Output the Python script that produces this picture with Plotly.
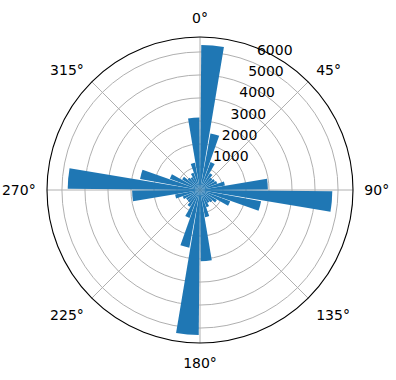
import plotly.graph_objects as go

bin_starts = list(range(0, 360, 10))
counts = [6300, 2500, 1300, 850, 700, 750, 800, 1100, 2950,
          5750, 2700, 1400, 850, 700, 650, 800, 1200, 3100,
          6300, 2550, 1300, 850, 700, 700, 800, 1100, 2950,
          5750, 2650, 1400, 900, 700, 650, 800, 1200, 3150]
bar_width_deg = 9
angle_ticks = [0, 45, 90, 135, 180, 225, 270, 315]
angle_labels = [f"{a}°" for a in angle_ticks]
r_ticks = [1000, 2000, 3000, 4000, 5000, 6000]
r_label_angle = 22.5
r_max = 6650

centers = [s + 5 for s in bin_starts]

fig = go.Figure()
fig.add_trace(go.Barpolar(
    r=counts, theta=centers, width=[bar_width_deg] * len(counts),
    marker=dict(color="#1f77b4", line=dict(width=0)),
    hoverinfo="skip",
))
fig.add_trace(go.Scatterpolar(
    r=r_ticks, theta=[r_label_angle] * len(r_ticks),
    mode="markers+text", text=[str(v) for v in r_ticks],
    marker=dict(color="rgba(255,255,255,0)", size=5, line=dict(width=0)),
    textposition="top right",
    textfont=dict(family="DejaVu Sans", size=14, color="black"),
    hoverinfo="skip", cliponaxis=False,
))

W, H = 396, 380
cx, cy, R = 200, 190, 153
fig.update_layout(
    width=W, height=H,
    margin=dict(l=0, r=0, t=0, b=0),
    paper_bgcolor="white",
    showlegend=False,
    font=dict(family="DejaVu Sans", size=14, color="black"),
    polar=dict(
        domain=dict(x=[(cx - R) / W, (cx + R) / W], y=[(H - cy - R) / H, (H - cy + R) / H]),
        bgcolor="white",
        bargap=0,
        angularaxis=dict(
            direction="clockwise", rotation=90,
            tickmode="array", tickvals=angle_ticks, ticktext=angle_labels,
            showline=True, linecolor="black", linewidth=1.1,
            gridcolor="#b0b0b0", gridwidth=1.1,
            ticks="outside", ticklen=8, tickcolor="rgba(0,0,0,0)",
            tickfont=dict(size=14, color="black"),
        ),
        radialaxis=dict(
            range=[0, r_max], angle=67.5,
            tickmode="array", tickvals=r_ticks,
            showticklabels=False,
            showline=False, ticks="",
            gridcolor="#b0b0b0", gridwidth=1.1,
            layer="above traces",
        ),
    ),
)
fig.write_html("out.html")
